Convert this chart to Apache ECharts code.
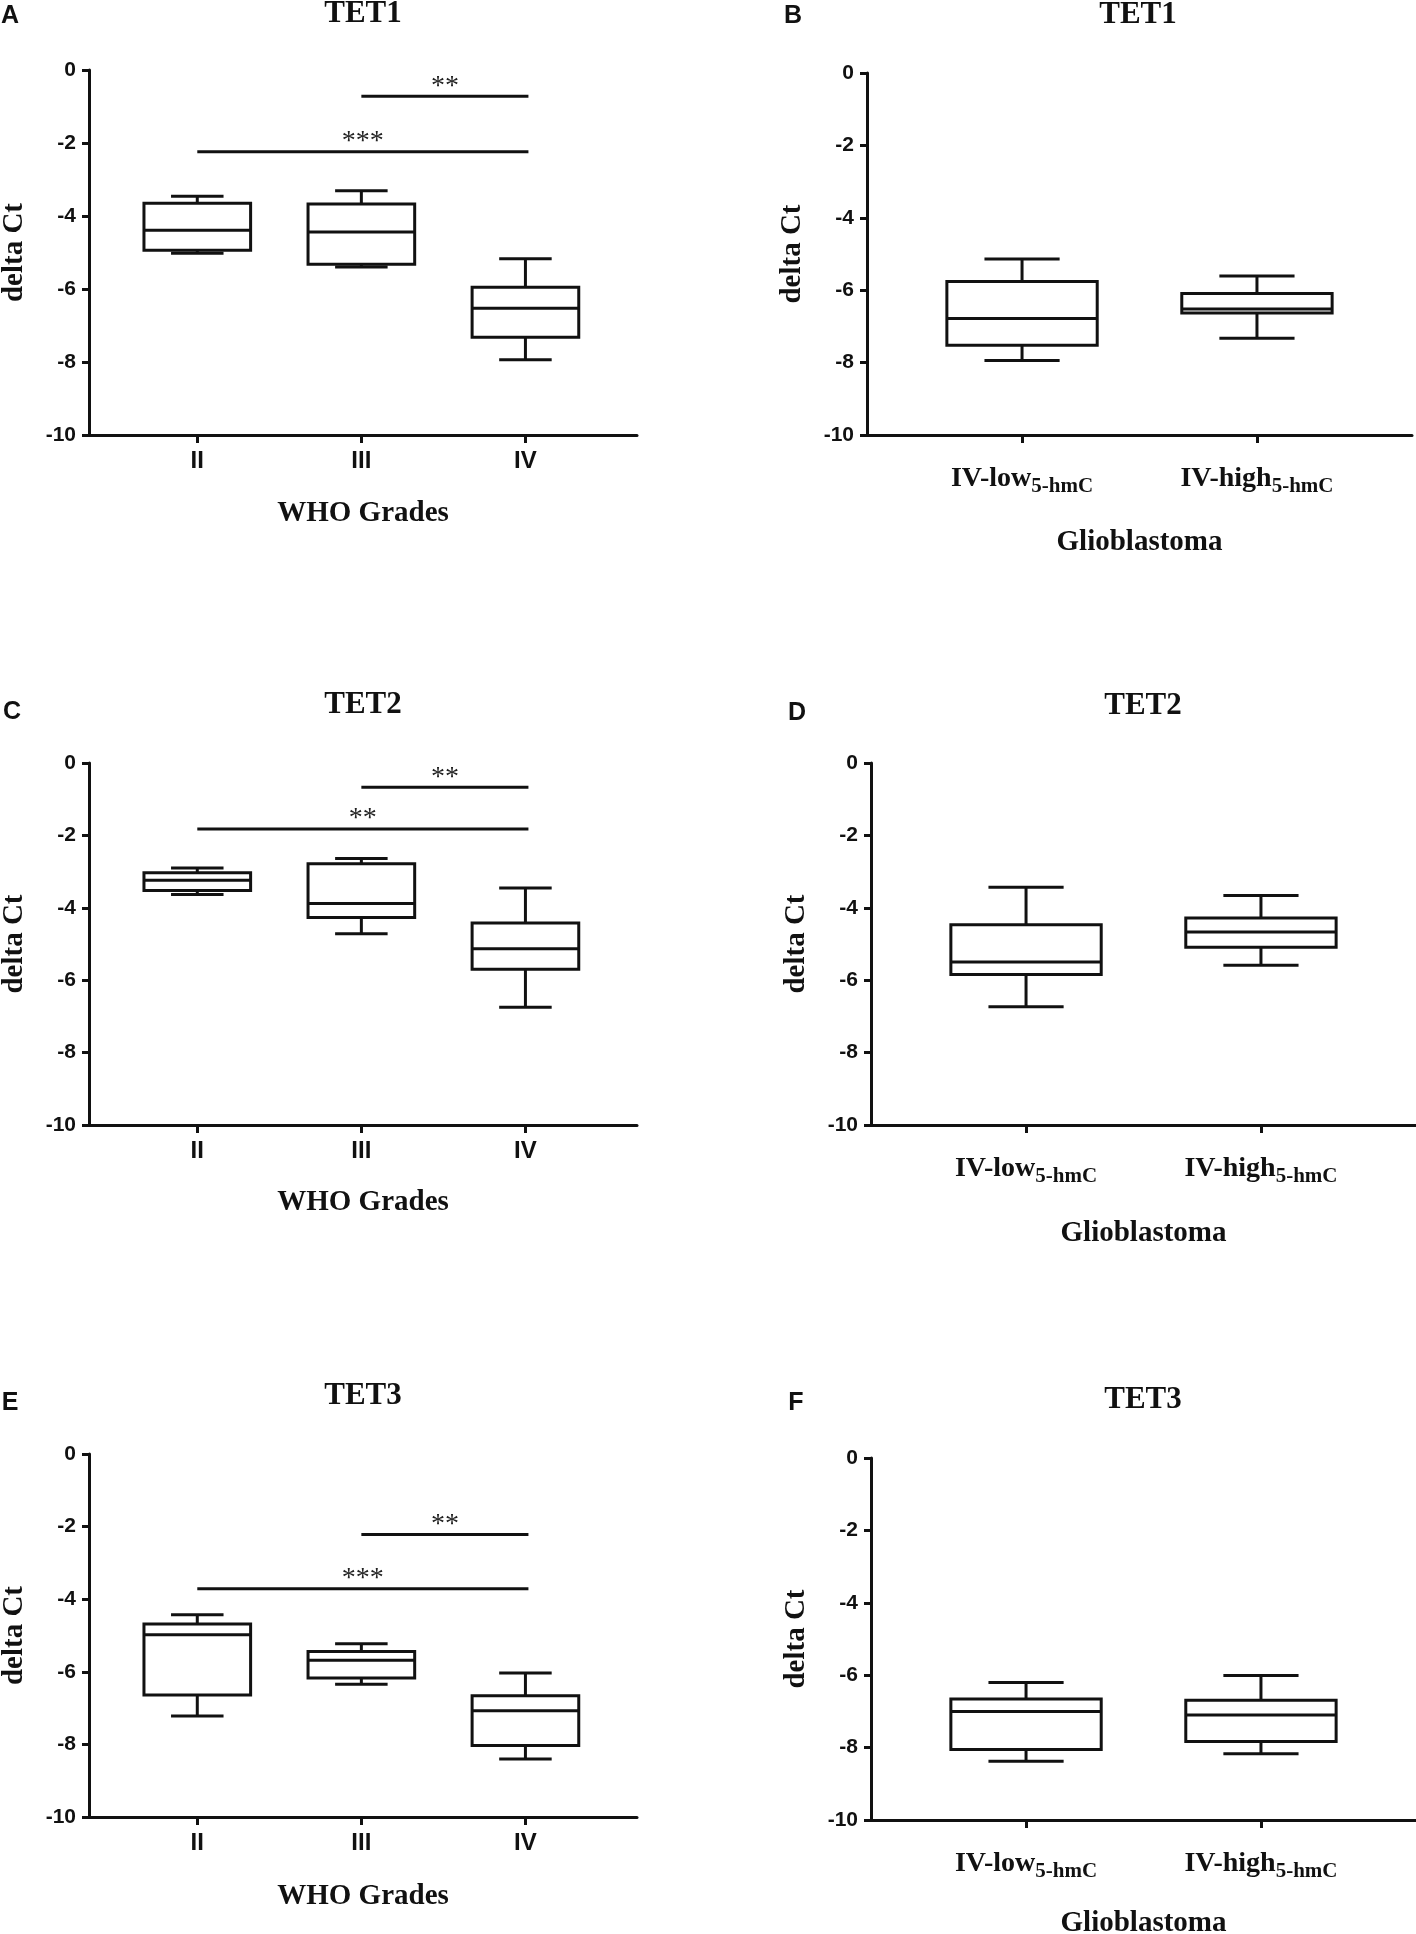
<!DOCTYPE html>
<html><head><meta charset="utf-8">
<script src="https://cdn.jsdelivr.net/npm/echarts@6/dist/echarts.min.js"></script>
<style>html,body{margin:0;padding:0;background:#fff}#c{width:1416px;height:1934px}</style>
</head><body><div id="c"></div>
<script>
// ---------- data ----------
const gradeCategories = ['II', 'III', 'IV'];
const gbmCategories = ['IV-low', 'IV-high'];
const gbmSubscript = '5-hmC';
const yTickValues = [0, -2, -4, -6, -8, -10];
// each box: [min, Q1, median, Q3, max]
const tet1Grades = [[-5.02, -4.94, -4.39, -3.65, -3.46], [-5.40, -5.32, -4.44, -3.67, -3.31], [-7.94, -7.32, -6.53, -5.95, -5.17]];
const tet1Gbm    = [[-7.94, -7.52, -6.78, -5.76, -5.14], [-7.33, -6.63, -6.52, -6.09, -5.61]];
const tet2Grades = [[-3.63, -3.52, -3.24, -3.03, -2.90], [-4.72, -4.27, -3.88, -2.78, -2.64], [-6.75, -5.70, -5.13, -4.42, -3.45]];
const tet2Gbm    = [[-6.73, -5.84, -5.50, -4.47, -3.43], [-5.59, -5.09, -4.67, -4.28, -3.66]];
const tet3Grades = [[-7.22, -6.64, -4.98, -4.68, -4.43], [-6.34, -6.17, -5.68, -5.44, -5.23], [-8.40, -8.03, -7.07, -6.66, -6.03]];
const tet3Gbm    = [[-8.38, -8.05, -7.00, -6.66, -6.20], [-8.17, -7.83, -7.10, -6.69, -6.01]];
// significance bars: [from category (1-based), to category, y, label]
const tet1Sig = [[2, 3, -0.72, '**'], [1, 3, -2.24, '***']];
const tet2Sig = [[2, 3, -0.67, '**'], [1, 3, -1.82, '**']];
const tet3Sig = [[2, 3, -2.22, '**'], [1, 3, -3.71, '***']];

// ---------- layout ----------
const INK = '#111';
const SERIF = 'Liberation Serif, Times New Roman, serif';
const SANS = 'Liberation Sans, Arial, sans-serif';

const panels = [
  {letter: 'A', lx: 10, ly: 16, title: 'TET1', tx: 363, ty: 14, kind: 'grade', boxes: tet1Grades, sig: tet1Sig,
   grid: {left: 89, top: 70, width: 548, height: 365}, xr: [0.34, 3.68], boxW: 0.65, capW: 0.32, nameGap: 64},
  {letter: 'B', lx: 793, ly: 16, title: 'TET1', tx: 1138, ty: 15, kind: 'gbm', boxes: tet1Gbm, sig: [],
   grid: {left: 867, top: 73, width: 545, height: 362}, xr: [0.34, 2.66], boxW: 0.64, capW: 0.32, nameGap: 93},
  {letter: 'C', lx: 12, ly: 712, title: 'TET2', tx: 363, ty: 705, kind: 'grade', boxes: tet2Grades, sig: tet2Sig,
   grid: {left: 89, top: 763, width: 548, height: 362}, xr: [0.34, 3.68], boxW: 0.65, capW: 0.32, nameGap: 63},
  {letter: 'D', lx: 797, ly: 713, title: 'TET2', tx: 1143, ty: 706, kind: 'gbm', boxes: tet2Gbm, sig: [],
   grid: {left: 871, top: 763, width: 545, height: 362}, xr: [0.34, 2.66], boxW: 0.64, capW: 0.32, nameGap: 94},
  {letter: 'E', lx: 10, ly: 1403, title: 'TET3', tx: 363, ty: 1396, kind: 'grade', boxes: tet3Grades, sig: tet3Sig,
   grid: {left: 89, top: 1454, width: 548, height: 363}, xr: [0.34, 3.68], boxW: 0.65, capW: 0.32, nameGap: 65},
  {letter: 'F', lx: 796, ly: 1403, title: 'TET3', tx: 1143, ty: 1400, kind: 'gbm', boxes: tet3Gbm, sig: [],
   grid: {left: 871, top: 1458, width: 545, height: 362}, xr: [0.34, 2.66], boxW: 0.64, capW: 0.32, nameGap: 89}
];

function makeBoxRender(boxW, capW) {
  return function (params, api) {
    const x = api.value(0), mn = api.value(1), q1 = api.value(2), md = api.value(3), q3 = api.value(4), mx = api.value(5);
    const P = (a, b) => api.coord([a, b]);
    const st = {stroke: INK, lineWidth: 3};
    const seg = (x1, y1, x2, y2) => {
      const a = P(x1, y1), b = P(x2, y2);
      return {type: 'line', shape: {x1: a[0], y1: a[1], x2: b[0], y2: b[1]}, style: st};
    };
    const tl = P(x - boxW / 2, q3), br = P(x + boxW / 2, q1);
    return {type: 'group', children: [
      seg(x, q3, x, mx), seg(x - capW / 2, mx, x + capW / 2, mx),
      seg(x, q1, x, mn), seg(x - capW / 2, mn, x + capW / 2, mn),
      {type: 'rect', shape: {x: tl[0], y: tl[1], width: br[0] - tl[0], height: br[1] - tl[1]},
       style: {stroke: INK, lineWidth: 3, fill: '#fff'}},
      seg(x - boxW / 2, md, x + boxW / 2, md)
    ]};
  };
}

function makeSigRender(sig) {
  return function (params, api) {
    const s = sig[params.dataIndex];
    const a = api.coord([api.value(0), api.value(2)]);
    const b = api.coord([api.value(1), api.value(2)]);
    const xEnd = b[0] + 3;
    return {type: 'group', children: [
      {type: 'line', shape: {x1: a[0], y1: a[1], x2: xEnd, y2: b[1]}, style: {stroke: INK, lineWidth: 3}},
      {type: 'text', x: (a[0] + xEnd) / 2, y: a[1] - 10,
       style: {text: s[3], align: 'center', verticalAlign: 'middle', fontSize: 28, fontFamily: SERIF, fill: '#222'}}
    ]};
  };
}

const grids = [], xAxes = [], yAxes = [], series = [], graphics = [];
panels.forEach((p, i) => {
  grids.push(Object.assign({outerBoundsMode: 'none', containLabel: false}, p.grid));
  const cats = p.kind === 'grade' ? gradeCategories : gbmCategories;
  const catValues = cats.map((c, k) => k + 1);
  const xLabel = p.kind === 'grade'
    ? {customValues: catValues, formatter: v => cats[Math.round(v) - 1] || '', margin: 14,
       fontFamily: SANS, fontWeight: 'bold', fontSize: 24, color: INK}
    : {customValues: catValues, formatter: v => '{m|' + (cats[Math.round(v) - 1] || '') + '}{s|' + gbmSubscript + '}', margin: 28,
       rich: {m: {fontFamily: SERIF, fontWeight: 'bold', fontSize: 28, lineHeight: 32, color: INK},
              s: {fontFamily: SERIF, fontWeight: 'bold', fontSize: 21, lineHeight: 16, padding: [16, 0, 0, 0], color: INK}}};
  xAxes.push({
    type: 'value', gridIndex: i, min: p.xr[0], max: p.xr[1],
    name: p.kind === 'grade' ? 'WHO Grades' : 'Glioblastoma', nameLocation: 'middle', nameGap: p.nameGap,
    nameTextStyle: {fontFamily: SERIF, fontWeight: 'bold', fontSize: 29, color: INK},
    axisLine: {show: true, onZero: false, lineStyle: {color: INK, width: 3}},
    axisTick: {show: true, customValues: catValues, length: 8, lineStyle: {color: INK, width: 3}},
    axisLabel: xLabel,
    splitLine: {show: false}
  });
  yAxes.push({
    type: 'value', gridIndex: i, min: -10, max: 0, interval: 2,
    name: 'delta Ct', nameLocation: 'middle', nameGap: 60, nameRotate: 90,
    nameTextStyle: {fontFamily: SERIF, fontWeight: 'bold', fontSize: 29, color: INK},
    axisLine: {show: true, onZero: false, lineStyle: {color: INK, width: 3}},
    axisTick: {show: true, customValues: yTickValues, length: 7, lineStyle: {color: INK, width: 3}},
    axisLabel: {customValues: yTickValues, margin: 13, fontFamily: SANS, fontWeight: 'bold', fontSize: 21, color: INK},
    splitLine: {show: false}
  });
  series.push({
    type: 'custom', xAxisIndex: i, yAxisIndex: i, clip: false,
    renderItem: makeBoxRender(p.boxW, p.capW),
    data: p.boxes.map((b, k) => [k + 1].concat(b))
  });
  if (p.sig.length) {
    series.push({
      type: 'custom', xAxisIndex: i, yAxisIndex: i, clip: false,
      renderItem: makeSigRender(p.sig),
      data: p.sig.map(s => [s[0], s[1], s[2]])
    });
  }
  graphics.push({type: 'text', x: p.lx, y: p.ly,
    style: {text: p.letter, align: 'center', verticalAlign: 'middle', fontFamily: SANS, fontWeight: 'bold', fontSize: 25, fill: INK}});
  graphics.push({type: 'text', x: p.tx, y: p.ty,
    style: {text: p.title, align: 'center', verticalAlign: 'middle', fontFamily: SERIF, fontWeight: 'bold', fontSize: 31, fill: INK}});
});

const chart = echarts.init(document.getElementById('c'), null, {renderer: 'canvas'});
chart.setOption({
  animation: false,
  backgroundColor: '#fff',
  grid: grids, xAxis: xAxes, yAxis: yAxes, series: series, graphic: graphics
});
</script></body></html>
